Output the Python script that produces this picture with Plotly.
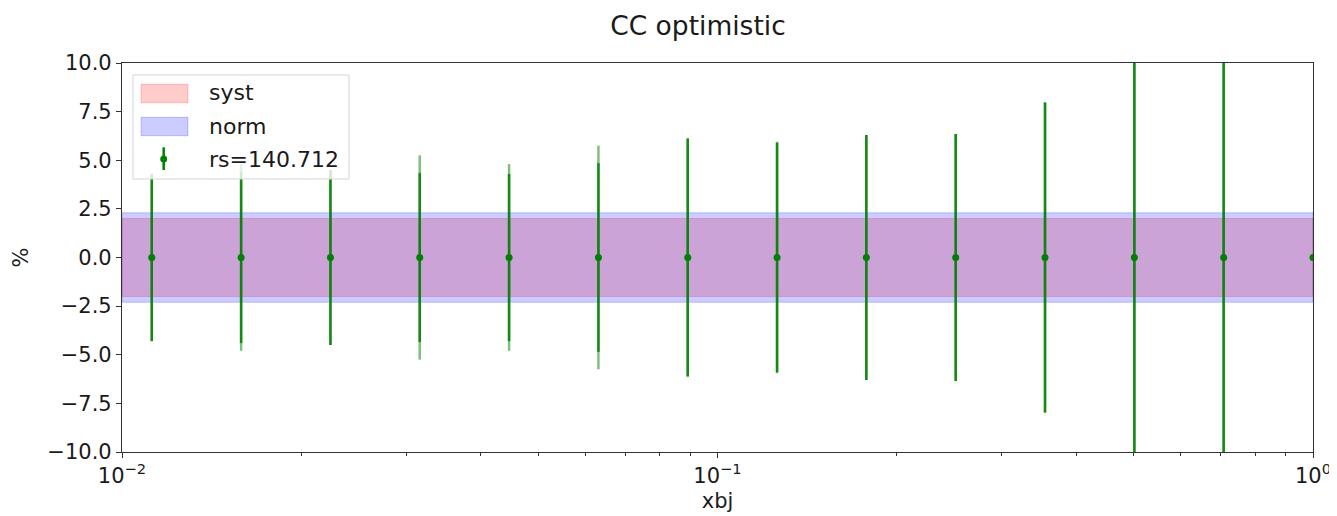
import plotly.graph_objects as go

# data
xbj = [0.01122, 0.01585, 0.02239, 0.03162, 0.04467, 0.0631, 0.08913,
       0.1259, 0.1778, 0.2512, 0.3548, 0.5012, 0.7079, 1.0]
vals = [0.0] * 14
err_inner = [4.3, 4.4, 4.5, 4.35, 4.3, 4.85, 6.1, 5.9, 6.3, 6.35, 7.95, 15.0, 15.0, 0.0]
err_outer = [4.3, 4.8, 4.5, 5.25, 4.8, 5.75, 6.15, 5.95, 6.3, 6.35, 8.0, 15.0, 15.0, 0.0]
syst_half = 2.0
norm_half = 2.3
x_lo, x_hi = 0.01, 1.0
legend_labels = ["syst", "norm", "rs=140.712"]

yticks = [-10, -7.5, -5, -2.5, 0, 2.5, 5, 7.5, 10]
ytext = [("\u2212" if v < 0 else "") + f"{abs(v):.1f}" for v in yticks]
xticks = [0.01, 0.1, 1.0]
xtext = ["10<sup>\u22122</sup>", "10<sup>\u22121</sup>", "10<sup>0</sup>"]
xminor = [m * d for d in (0.01, 0.1) for m in range(2, 10)]

FONT = "DejaVu Sans"
RED_FILL = "rgba(255,0,0,0.2)"
BLUE_FILL = "rgba(0,0,255,0.2)"

fig = go.Figure()
fig.add_trace(go.Scatter(
    x=[x_lo, x_hi, x_hi, x_lo, x_lo],
    y=[syst_half, syst_half, -syst_half, -syst_half, syst_half],
    fill="toself", fillcolor=RED_FILL,
    line=dict(color=RED_FILL, width=1), mode="lines",
    name=legend_labels[0], hoverinfo="skip", showlegend=False))
fig.add_trace(go.Scatter(
    x=[x_lo, x_hi, x_hi, x_lo, x_lo],
    y=[norm_half, norm_half, -norm_half, -norm_half, norm_half],
    fill="toself", fillcolor=BLUE_FILL,
    line=dict(color=BLUE_FILL, width=1), mode="lines",
    name=legend_labels[1], hoverinfo="skip", showlegend=False))
fig.add_trace(go.Scatter(
    x=xbj, y=vals, mode="markers", marker=dict(size=0.1, color="rgba(0,128,0,0)"),
    error_y=dict(type="data", array=err_outer, color="rgba(0,128,0,0.5)",
                 thickness=2.5, width=0),
    showlegend=False, hoverinfo="skip"))
fig.add_trace(go.Scatter(
    x=xbj, y=vals, mode="markers", marker=dict(size=7, color="green"),
    error_y=dict(type="data", array=err_inner, color="rgba(0,128,0,0.85)",
                 thickness=2.5, width=0),
    name=legend_labels[2], showlegend=False))

# ---- hand-built legend box (matplotlib style) in plot-area fractions ----
shapes = [
    dict(type="rect", xref="paper", yref="paper", x0=0.0092, x1=0.1906,
         y0=0.7018, y1=0.9692, fillcolor="rgba(255,255,255,0.8)",
         line=dict(color="#d6d6d6", width=1), layer="above"),
    dict(type="rect", xref="paper", yref="paper", x0=0.0160, x1=0.0554,
         y0=0.8979, y1=0.9453, fillcolor=RED_FILL,
         line=dict(color=RED_FILL, width=1), layer="above"),
    dict(type="rect", xref="paper", yref="paper", x0=0.0160, x1=0.0554,
         y0=0.8131, y1=0.8604, fillcolor=BLUE_FILL,
         line=dict(color=BLUE_FILL, width=1), layer="above"),
    dict(type="line", xref="paper", yref="paper", x0=0.0350, x1=0.0350,
         y0=0.7249, y1=0.7833, line=dict(color="green", width=2.5), layer="above"),
    dict(type="circle", xref="paper", yref="paper", x0=0.0350 - 0.0029,
         x1=0.0350 + 0.0029, y0=0.7532 - 0.009, y1=0.7532 + 0.009,
         fillcolor="green", line=dict(color="green", width=0), layer="above"),
]
annotations = [
    dict(text=t, xref="paper", yref="paper", x=0.0714, y=yy, xanchor="left",
         yanchor="middle", showarrow=False, font=dict(size=22, family=FONT, color="#1a1a1a"))
    for t, yy in zip(legend_labels, [0.9229, 0.8355, 0.7532])
]

fig.update_layout(
    width=1329, height=508,
    margin=dict(l=114, r=24, t=55, b=64, autoexpand=False),
    paper_bgcolor="white", plot_bgcolor="white",
    font=dict(family=FONT, size=21, color="#1a1a1a"),
    title=dict(text="CC optimistic", xref="paper", x=0.4836, xanchor="center",
               yref="container", y=0.966, yanchor="middle",
               font=dict(size=26.5, family=FONT, color="#1a1a1a")),
    showlegend=False,
    shapes=shapes, annotations=annotations,
    xaxis=dict(type="log", range=[-2, 0], tickvals=xticks, ticktext=xtext,
               ticks="outside", ticklen=5, tickcolor="#333", showgrid=False,
               showline=True, linecolor="#333", linewidth=1.2, mirror=True,
               zeroline=False, automargin=False,
               minor=dict(tickvals=xminor, ticks="outside", ticklen=3,
                          tickcolor="#333", showgrid=False),
               title=dict(text="xbj", font=dict(size=21), standoff=6),
               tickfont=dict(size=21)),
    yaxis=dict(range=[-10, 10], tickvals=yticks, ticktext=ytext,
               ticks="outside", ticklen=5, tickcolor="#333", showgrid=False,
               showline=True, linecolor="#333", linewidth=1.2, mirror=True,
               zeroline=False, automargin=False,
               title=dict(text="%", font=dict(size=21), standoff=12),
               tickfont=dict(size=21)),
)
fig.write_html("out.html")
